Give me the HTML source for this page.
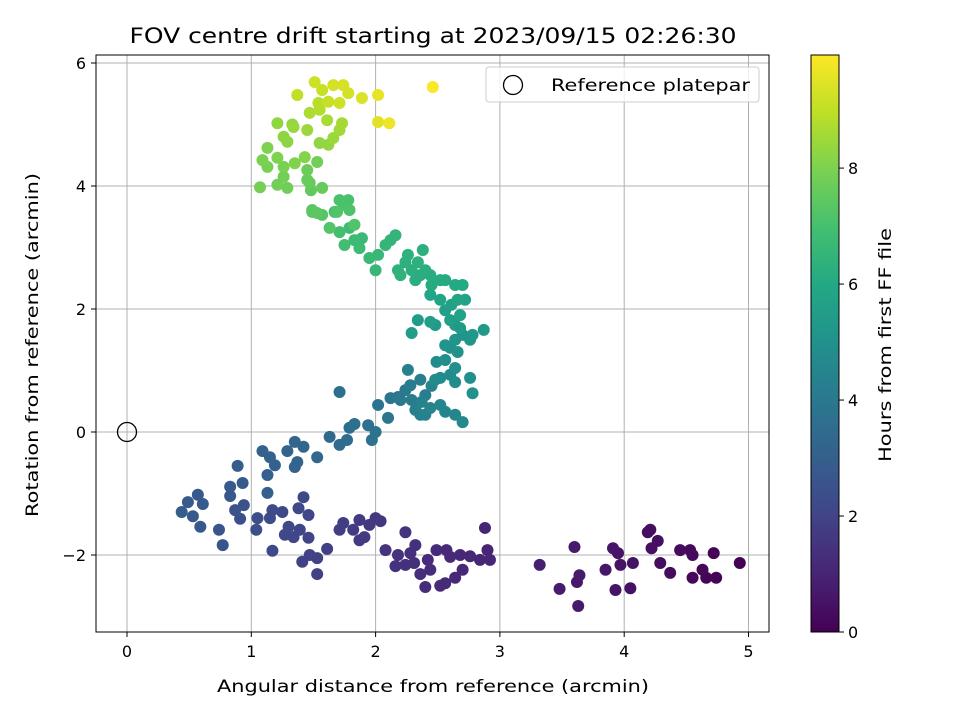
<!DOCTYPE html>
<html><head><meta charset="utf-8"><style>
body{margin:0;background:#fff;font-family:"DejaVu Sans","Liberation Sans",sans-serif}
svg text{font-family:"DejaVu Sans","Liberation Sans",sans-serif}
</style></head><body>
<svg id="chart" width="960" height="720" xmlns="http://www.w3.org/2000/svg">
<defs><linearGradient id="vir" x1="0" y1="1" x2="0" y2="0">
<stop offset="0" stop-color="#440154"/><stop offset="0.1" stop-color="#482475"/><stop offset="0.2" stop-color="#414487"/><stop offset="0.3" stop-color="#355f8d"/><stop offset="0.4" stop-color="#2a788e"/><stop offset="0.5" stop-color="#21918c"/><stop offset="0.6" stop-color="#22a884"/><stop offset="0.7" stop-color="#44bf70"/><stop offset="0.8" stop-color="#7ad151"/><stop offset="0.9" stop-color="#bddf26"/><stop offset="1" stop-color="#fde725"/></linearGradient></defs>
<text x="433" y="43" font-size="21" text-anchor="middle" textLength="607" lengthAdjust="spacingAndGlyphs">FOV centre drift starting at 2023/09/15 02:26:30</text>
<g id="grid"></g>
<g id="pts"></g>
<rect x="96" y="55" width="673" height="577" fill="none" stroke="#000" stroke-width="1"/>
<g id="ticks"></g>
<text x="433" y="692" font-size="17" text-anchor="middle" textLength="432" lengthAdjust="spacingAndGlyphs">Angular distance from reference (arcmin)</text>
<text transform="translate(38,345) rotate(-90)" font-size="17" text-anchor="middle" textLength="344" lengthAdjust="spacingAndGlyphs">Rotation from reference (arcmin)</text>
<g>
<rect x="486" y="67" width="273" height="35" rx="3" fill="#fff" fill-opacity="0.8" stroke="#ccc"/>
<circle cx="513" cy="85" r="9.5" fill="none" stroke="#000" stroke-width="1.3"/>
<text x="551" y="91" font-size="17" textLength="199" lengthAdjust="spacingAndGlyphs">Reference platepar</text>
</g>
<rect x="811" y="55" width="28" height="577" fill="url(#vir)" stroke="#000" stroke-width="1"/>
<g id="cbticks"></g>
<text transform="translate(891,345) rotate(-90)" font-size="17" text-anchor="middle" textLength="234" lengthAdjust="spacingAndGlyphs">Hours from first FF file</text>
</svg>
<script>
const xs=[4.93,4.74,4.72,4.66,4.63,4.55,4.53,4.55,4.45,4.37,4.29,4.21,4.19,4.22,4.27,4.05,4.07,3.97,3.95,3.93,3.91,3.85,3.62,3.60,3.63,3.64,3.48,3.32,
2.88,2.90,2.92,2.84,2.76,2.70,2.64,2.56,2.49,2.57,2.42,2.44,2.36,2.40,2.28,2.32,2.24,2.18,2.16,2.08,2.52,2.68,2.60,2.24,2.31,
0.44,0.49,0.57,0.61,0.53,0.59,0.74,0.77,0.83,0.83,0.93,0.89,0.87,0.94,0.91,1.04,1.05,1.17,1.15,1.25,1.30,1.27,1.34,1.42,1.38,1.46,1.39,1.46,1.17,1.41,1.47,1.53,1.53,1.61,1.71,1.74,1.82,1.87,1.91,1.13,2.00,1.95,1.87,2.04,
1.09,1.15,1.19,1.13,1.29,1.35,1.42,1.37,1.35,1.53,1.63,1.71,1.77,1.79,1.83,1.71,1.94,2.00,1.97,
2.02,2.10,2.12,2.18,2.24,2.20,2.28,2.29,2.36,2.40,2.26,2.32,2.36,2.37,2.45,2.52,2.56,2.64,2.70,2.40,2.44,
2.48,2.52,2.60,2.64,2.49,2.56,2.64,2.76,2.78,2.60,2.66,2.64,2.70,2.56,2.76,2.78,2.87,2.64,2.68,2.48,2.34,2.29,2.44,
2.56,2.61,2.68,2.72,2.66,2.60,2.52,2.44,2.70,2.64,2.56,2.52,2.45,2.40,2.36,2.44,2.29,2.24,2.18,2.26,2.38,2.34,2.32,2.20,
2.16,2.12,2.08,2.02,2.00,1.95,1.89,1.87,1.83,1.79,1.75,1.71,1.67,1.71,1.75,1.78,1.79,1.83,1.63,1.57,1.49,1.69,
1.48,1.49,1.53,1.57,1.53,1.45,1.45,1.47,1.26,1.29,1.21,1.07,1.13,1.09,1.13,1.21,1.21,1.26,1.35,1.43,1.29,1.26,1.34,1.45,1.55,1.62,1.66,1.71,1.73,1.61,1.47,1.54,1.51,1.37,1.57,1.66,1.74,1.78,1.71,1.62,1.89,2.02,2.02,2.11,2.46,1.33,1.55];
const ys=[-2.13,-2.37,-1.97,-2.37,-2.24,-2.37,-1.92,-2.00,-1.92,-2.29,-2.13,-1.59,-1.63,-1.89,-1.77,-2.54,-2.13,-2.16,-1.97,-2.57,-1.89,-2.24,-2.44,-1.87,-2.83,-2.33,-2.55,-2.16,
-1.56,-1.92,-2.08,-2.08,-2.02,-2.24,-2.37,-2.46,-1.92,-1.92,-2.08,-2.24,-2.31,-2.52,-1.97,-1.84,-1.63,-2.00,-2.18,-1.92,-2.50,-2.00,-2.03,-2.16,-2.13,
-1.30,-1.14,-1.02,-1.17,-1.37,-1.54,-1.59,-1.84,-1.04,-0.89,-0.83,-0.55,-1.27,-1.19,-1.41,-1.59,-1.40,-1.27,-1.40,-1.30,-1.54,-1.67,-1.71,-1.06,-1.24,-1.35,-1.59,-1.72,-1.93,-2.11,-2.00,-2.05,-2.31,-1.90,-1.59,-1.48,-1.59,-1.43,-1.71,-0.99,-1.40,-1.51,-1.76,-1.45,
-0.31,-0.41,-0.54,-0.70,-0.31,-0.16,-0.24,-0.49,-0.57,-0.41,-0.08,-0.21,-0.13,0.07,0.13,0.65,0.11,0.00,-0.13,
0.44,0.23,0.55,0.57,0.68,0.52,0.76,0.52,0.85,0.60,1.01,0.36,0.28,0.49,0.75,0.44,0.33,0.28,0.16,0.28,0.39,
0.85,0.88,0.93,0.81,1.14,1.17,1.04,0.88,0.63,1.37,1.30,1.50,1.58,1.41,1.50,1.58,1.66,1.74,1.69,1.74,1.82,1.61,1.79,
1.98,2.07,1.90,2.15,2.15,1.82,2.15,2.23,2.39,2.39,2.47,2.47,2.39,2.63,2.55,2.55,2.63,2.76,2.63,2.88,2.96,2.76,2.47,2.55,
3.20,3.12,3.04,2.88,2.63,2.83,3.15,2.99,3.12,3.32,3.04,3.25,3.58,3.77,3.69,3.77,3.61,3.37,3.32,3.53,3.58,3.58,
3.93,3.61,3.56,3.97,4.39,4.26,4.10,4.05,4.15,3.97,4.02,3.98,4.62,4.42,4.31,5.02,4.46,4.31,4.37,4.47,4.72,4.80,4.96,4.91,4.70,4.67,4.78,4.91,5.02,5.07,5.19,5.35,5.69,5.48,5.56,5.64,5.64,5.51,5.35,5.37,5.43,5.48,5.04,5.02,5.61,5.00,5.24];
const hs=[0.05,0.08,0.12,0.15,0.18,0.2,0.22,0.25,0.28,0.3,0.33,0.36,0.38,0.4,0.42,0.45,0.48,0.5,0.52,0.55,0.58,0.6,0.65,0.68,0.7,0.72,0.78,0.85,
1.0,1.02,1.04,1.06,1.1,1.12,1.15,1.2,1.22,1.18,1.25,1.27,1.3,1.28,1.35,1.37,1.45,1.4,1.42,1.5,1.22,1.12,1.16,1.38,1.33,
2.9,2.85,2.8,2.8,2.75,2.7,2.6,2.6,2.7,2.75,2.8,2.9,2.5,2.5,2.45,2.4,2.4,2.3,2.3,2.2,2.2,2.15,2.1,2.2,2.15,2.05,2.1,2.0,2.2,1.95,1.95,1.9,1.9,1.85,1.8,1.8,1.75,1.7,1.7,3.0,1.65,1.65,1.7,1.6,
3.1,3.1,3.05,3.0,3.2,3.25,3.3,3.2,3.2,3.35,3.4,3.45,3.5,3.55,3.6,3.6,3.7,3.75,3.7,
3.8,3.85,3.9,3.95,4.0,4.0,4.1,4.1,4.2,4.2,4.3,4.3,4.35,4.4,4.45,4.5,4.5,4.55,4.6,4.4,4.45,
4.7,4.7,4.75,4.8,4.85,4.9,4.9,4.95,5.0,5.0,5.05,5.1,5.15,5.1,5.2,5.2,5.3,5.35,5.4,5.4,5.45,5.5,5.5,
5.6,5.65,5.7,5.75,5.8,5.6,5.85,5.9,6.0,6.0,6.05,6.1,6.1,6.2,6.2,6.15,6.25,6.3,6.35,6.35,6.3,6.3,6.2,6.4,
6.5,6.5,6.55,6.6,6.6,6.65,6.7,6.75,6.8,6.85,6.9,6.95,7.0,7.05,7.1,7.1,7.15,7.2,7.25,7.3,7.3,7.2,
7.5,7.4,7.4,7.6,7.8,7.7,7.65,7.6,7.8,7.75,7.8,7.85,8.0,7.95,7.9,8.3,8.0,7.95,8.05,8.1,8.2,8.25,8.4,8.45,8.3,8.35,8.45,8.55,8.6,8.65,8.7,8.9,9.2,9.0,9.1,9.3,9.35,9.3,9.2,9.1,9.4,9.6,9.5,9.7,9.9,8.35,8.8];
const xTicks=[0,1,2,3,4,5], yTicks=[-2,0,2,4,6], cTicks=[0,2,4,6,8];
const yTickLabels=["\u22122","0","2","4","6"];
const NS="http://www.w3.org/2000/svg";
const sx=v=>127+v*124.3, sy=v=>432-v*61.5, vmax=9.95, sc=v=>632-v/vmax*577;
const stops=[[0,68,1,84],[0.1,72,36,117],[0.2,65,68,135],[0.3,53,95,141],[0.4,42,120,142],[0.5,33,145,140],[0.6,34,168,132],[0.7,68,191,112],[0.8,122,209,81],[0.9,189,223,38],[1,253,231,37]];
function vir(t){t=Math.max(0,Math.min(1,t));for(let i=1;i<stops.length;i++){if(t<=stops[i][0]){const a=stops[i-1],b=stops[i],f=(t-a[0])/(b[0]-a[0]);return `rgb(${[1,2,3].map(k=>Math.round(a[k]+(b[k]-a[k])*f)).join(',')})`;}}return 'rgb(253,231,37)';}
function mk(tag,at,p){const e=document.createElementNS(NS,tag);for(const k in at)e.setAttribute(k,at[k]);p.appendChild(e);return e;}
const grid=document.getElementById('grid'),ticks=document.getElementById('ticks');
xTicks.forEach(v=>{const l=mk('line',{x1:sx(v),x2:sx(v),y1:55,y2:632,stroke:'#b0b0b0','stroke-width':1},grid);
mk('line',{x1:sx(v),x2:sx(v),y1:632,y2:637,stroke:'#000'},ticks);
const t=mk('text',{x:sx(v),y:657,'font-size':16,'text-anchor':'middle'},ticks);t.textContent=v;});
yTicks.forEach((v,i)=>{const l=mk('line',{x1:96,x2:769,y1:sy(v),y2:sy(v),stroke:'#b0b0b0','stroke-width':1},grid);
mk('line',{x1:91,x2:96,y1:sy(v),y2:sy(v),stroke:'#000'},ticks);
const t=mk('text',{x:86,y:sy(v)+6,'font-size':16,'text-anchor':'end'},ticks);t.textContent=yTickLabels[i];});
const pts=document.getElementById('pts');
const idx=hs.map((h,i)=>i).sort((a,b)=>hs[a]-hs[b]);
idx.forEach(i=>{const c=mk('circle',{cx:sx(xs[i]),cy:sy(ys[i]),r:6,fill:vir(hs[i]/vmax)},pts);

});
const ref=mk('circle',{cx:sx(0),cy:sy(0),r:9.5,fill:'none',stroke:'#000','stroke-width':1.3},pts);


const cb=document.getElementById('cbticks');
cTicks.forEach(v=>{mk('line',{x1:839,x2:844,y1:sc(v),y2:sc(v),stroke:'#000'},cb);
const t=mk('text',{x:848,y:sc(v)+6,'font-size':16},cb);t.textContent=v;});
</script>
</body></html>
